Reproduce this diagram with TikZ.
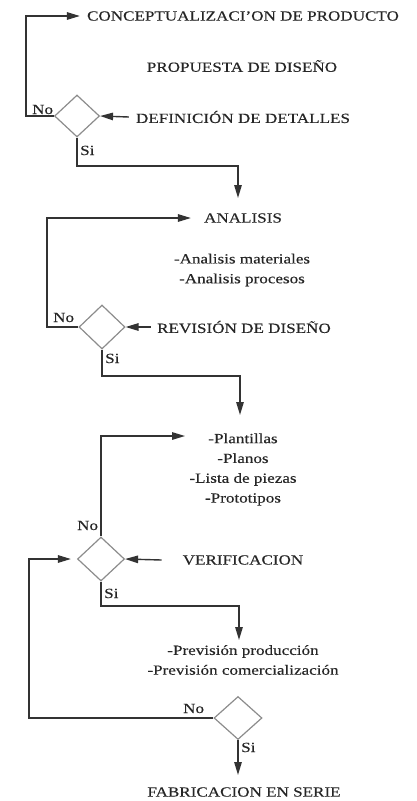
\documentclass[tikz,border=0pt]{standalone}
\usepackage{fontspec}
\setmainfont{Liberation Serif}[FakeStretch=1.22,FakeBold=0.3]
\usetikzlibrary{shapes.geometric,arrows.meta,calc}
\begin{document}
\begin{tikzpicture}[x=1pt,y=-1pt,
  txt/.style={font=\fontsize{14}{19.8}\selectfont, text=black!85, inner sep=0pt, align=center},
  lbl/.style={font=\fontsize{14}{15}\selectfont, text=black!85, inner sep=0pt, anchor=base west},
  dia/.style={diamond, draw=black!45, line width=1.2pt, minimum width=46pt, minimum height=43pt, inner sep=0pt},
  con/.style={draw=black!80, line width=1.4pt},
  arr/.style={con, -{Triangle[length=13pt,width=7.5pt]}},
]
\useasboundingbox (0,0) rectangle (416,801);

% ---- stage 1
\node[txt] (concept) at (243,16) {CONCEPTUALIZACI'ON DE PRODUCTO};
\node[txt] (prop) at (242,66) {PROPUESTA DE DISEÑO};
\node[dia, minimum width=45pt, minimum height=42pt] (d1) at (77,116) {};
\node[txt] (defin) at (243,117) {DEFINICIÓN DE DETALLES};
\node[lbl] (no1) at (32,114) {No};
\node[lbl] (si1) at (80,155) {Si};
\coordinate (a1) at (238,198);
\draw[arr] ([xshift=-7pt]defin.west) -- (d1.east);
\draw[arr] (d1.west) -- (26,116) |- ([xshift=-7pt]concept.west);
\draw[arr] (d1.south) -- (77,166) -| (a1);

% ---- stage 2
\node[txt] (anal) at (243,218) {ANALISIS};
\node[txt] (mat) at (242,270) {-Analisis materiales\\-Analisis procesos};
\node[dia, minimum width=46pt, minimum height=44pt] (d2) at (102,327) {};
\node[txt] (rev) at (244,327) {REVISIÓN DE DISEÑO};
\node[lbl] (no2) at (53,322) {No};
\node[lbl] (si2) at (105,363) {Si};
\coordinate (a2) at (240,415);
\draw[arr] ([xshift=-6pt]rev.west) -- (d2.east);
\draw[arr] (d2.west) -- (47,327) |- ([xshift=-13pt]anal.west);
\draw[arr] (d2.south) -- (102,376) -| (a2);

% ---- stage 3
\node[txt] (plan) at (243,469.5) {-Plantillas\\-Planos\\-Lista de piezas\\-Prototipos};
\node[dia, minimum width=47pt, minimum height=44pt] (d3) at (101,559) {};
\node[txt] (verif) at (243,560) {VERIFICACION};
\node[lbl] (no3) at (77,530) {No};
\node[lbl] (si3) at (104,598) {Si};
\coordinate (p1) at (185,436);
\coordinate (a3) at (239,640);
\draw[arr] (d3.north) |- (p1);
\draw[arr] ([xshift=-21pt]verif.west) -- (d3.east);
\draw[arr] (d3.south) -- (101,606) -| (a3);

% ---- stage 4
\node[txt] (prev) at (243,660) {-Previsión producción\\-Previsión comercialización};
\node[dia, minimum width=48pt, minimum height=43pt] (d4) at (238,718) {};
\node[lbl] (no4) at (183,713) {No};
\node[lbl] (si4) at (241,752) {Si};
\node[txt] (fab) at (244,792) {FABRICACION EN SERIE};
\coordinate (f1) at (238,775);
\draw[arr] (d4.west) -- (29,718) |- ([xshift=-6pt]d3.west);
\draw[arr] (d4.south) -- (f1);
\end{tikzpicture}
\end{document}
